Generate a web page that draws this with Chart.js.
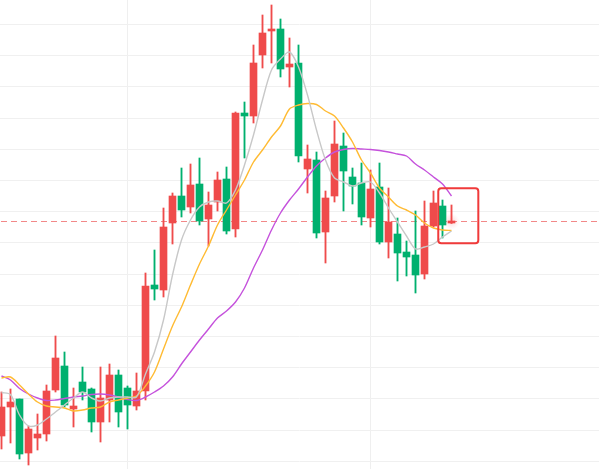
<!DOCTYPE html>
<html>
<head>
<meta charset="utf-8">
<script src="https://cdn.jsdelivr.net/npm/chart.js@4/dist/chart.umd.min.js"></script>
<style>
html,body{margin:0;padding:0;background:#fff;}
#wrap{width:599px;height:469px;position:relative;}
</style>
</head>
<body>
<div id="wrap"><canvas id="c"></canvas></div>
<script>
// ---- data ----
const opens  = [11.28,11.86,12.02,10.94,11.24,11.32,12.20,12.68,11.82,12.36,12.22,11.56,12.00,12.50,12.24,11.88,12.18,14.30,14.20,15.54,16.08,15.86,16.32,15.62,15.96,16.42,15.42,17.74,17.68,18.90,19.38,19.42,18.66,18.74,16.62,16.80,15.36,16.08,17.08,16.46,16.34,15.64,16.26,15.16,15.32,14.96,14.90,14.52,15.48,15.88,15.54];
const closes = [11.86,11.96,10.92,11.42,11.32,12.18,12.84,11.90,11.88,12.16,11.56,12.04,12.50,11.76,11.90,12.18,14.28,14.22,15.46,16.08,15.80,16.30,15.58,15.90,16.40,15.38,17.74,17.68,18.74,19.34,19.42,18.62,18.72,16.88,16.82,15.34,16.04,17.12,16.58,16.28,15.66,16.22,15.16,15.56,14.94,14.86,14.50,15.48,15.94,15.50,15.57];
const highs  = [12.16,12.22,12.02,11.48,11.72,12.30,13.28,12.96,12.24,12.66,12.24,12.66,12.72,12.60,12.28,12.54,14.54,15.00,15.84,16.14,16.64,16.72,16.84,16.16,16.56,16.66,17.76,17.96,19.10,19.70,19.90,19.62,19.24,19.10,17.10,16.96,16.18,17.58,17.34,16.64,16.74,16.60,16.74,16.24,15.64,15.18,15.78,15.98,16.18,16.00,15.90];
const lows   = [11.02,11.14,10.82,10.70,11.00,11.18,12.16,11.86,11.46,12.00,11.36,11.16,11.56,11.46,11.42,11.80,12.00,14.00,14.06,15.12,15.66,15.74,15.50,15.08,15.78,15.32,15.26,16.84,17.54,18.64,18.74,18.46,18.26,16.76,16.14,15.24,14.74,15.96,15.78,15.92,15.50,15.46,15.12,14.84,14.38,14.48,14.14,14.42,15.46,15.24,15.53];
const ma5    = [12.15,12.11,11.70,11.48,11.50,11.62,11.76,11.90,12.04,12.16,12.04,11.98,12.04,12.06,12.06,12.06,12.52,12.96,13.60,14.50,15.20,15.60,15.86,15.96,15.98,15.94,16.20,16.70,17.30,18.00,18.60,18.82,18.96,18.66,18.10,17.40,16.80,16.44,16.36,16.28,16.34,16.36,16.14,15.84,15.56,15.28,15.02,15.06,15.12,15.26,15.38];
const ma10   = [12.44,12.46,12.30,12.12,11.96,11.88,11.86,11.84,11.78,11.80,11.84,11.86,11.96,12.00,12.04,12.08,12.28,12.56,13.02,13.48,13.86,14.30,14.72,15.08,15.50,15.80,16.10,16.40,16.76,17.00,17.26,17.48,17.82,17.90,17.93,17.91,17.78,17.68,17.44,17.16,16.80,16.54,16.24,16.06,15.88,15.80,15.70,15.54,15.44,15.40,15.39];
const ma20   = [12.48,12.40,12.23,12.12,12.04,11.99,12.00,12.03,12.06,12.08,12.11,12.12,12.10,12.06,12.01,11.99,12.06,12.16,12.28,12.46,12.72,12.96,13.20,13.42,13.64,13.78,13.96,14.24,14.64,15.00,15.40,15.74,16.00,16.22,16.46,16.68,16.84,16.96,17.01,17.03,17.02,17.01,16.99,16.96,16.92,16.88,16.72,16.60,16.46,16.32,16.08];
const vGridAt = [14, 41];              // vertical separators (candle index)
const hGridTop = 19.51, hGridStep = 0.624, hGridCount = 15;
const boxRange = {x0: 48.53, x1: 52.98, yTop: 16.234, yBottom: 15.134};

const RED = '#ef4b4b', GREEN = '#00b06e';
const idx = closes.map((_, i) => i);
const colors = idx.map(i => closes[i] >= opens[i] ? RED : GREEN);

const lastPrice = closes[closes.length - 1];

const overlay = {
  id: 'overlay',
  beforeDatasetsDraw(chart) {
    const {ctx, chartArea, scales} = chart;
    const y = Math.round(scales.y.getPixelForValue(lastPrice)) + 0.5;
    ctx.save();
    ctx.strokeStyle = '#f28888';
    ctx.lineWidth = 1;
    ctx.setLineDash([6, 4]);
    ctx.lineDashOffset = -1;
    ctx.beginPath();
    ctx.moveTo(chartArea.left, y);
    ctx.lineTo(chartArea.right, y);
    ctx.stroke();
    ctx.restore();
  },
  afterDatasetsDraw(chart) {
    const {ctx, scales} = chart;
    const xs = scales.x, ys = scales.y;
    ctx.save();
    // soft glow at last price
    const gx = xs.getPixelForValue(idx[idx.length - 1]);
    const gy = ys.getPixelForValue(lastPrice);
    const g = ctx.createRadialGradient(gx, gy, 0, gx, gy, 8);
    g.addColorStop(0, 'rgba(240,70,70,0.2)');
    g.addColorStop(1, 'rgba(240,70,70,0)');
    ctx.fillStyle = g;
    ctx.beginPath();
    ctx.arc(gx, gy, 8, 0, Math.PI * 2);
    ctx.fill();
    // highlight box
    const x0 = xs.getPixelForValue(boxRange.x0), x1 = xs.getPixelForValue(boxRange.x1);
    const y0 = ys.getPixelForValue(boxRange.yTop), y1 = ys.getPixelForValue(boxRange.yBottom);
    ctx.strokeStyle = '#f03a3a';
    ctx.lineWidth = 2;
    ctx.beginPath();
    ctx.roundRect(x0, y0, x1 - x0, y1 - y0, 3);
    ctx.stroke();
    ctx.restore();
  }
};

new Chart(document.getElementById('c'), {
  type: 'bar',
  data: {
    datasets: [
      {
        type: 'line', label: 'MA5', order: 0,
        data: idx.map(i => ({x: i, y: ma5[i]})),
        borderColor: '#c8c8c8', borderWidth: 1.4, pointRadius: 0, tension: 0.3
      },
      {
        type: 'line', label: 'MA10', order: 0,
        data: idx.map(i => ({x: i, y: ma10[i]})),
        borderColor: '#ffbb33', borderWidth: 1.4, pointRadius: 0, tension: 0.3
      },
      {
        type: 'line', label: 'MA20', order: 0,
        data: idx.map(i => ({x: i, y: ma20[i]})),
        borderColor: '#c552dc', borderWidth: 1.4, pointRadius: 0, tension: 0.3
      },
      {
        label: 'wick', order: 2, grouped: false,
        data: idx.map(i => ({x: i, y: [lows[i], highs[i]]})),
        backgroundColor: colors, borderWidth: 0, barThickness: 1.2, minBarLength: 1
      },
      {
        label: 'body', order: 1, grouped: false,
        data: idx.map(i => ({x: i, y: [opens[i], closes[i]]})),
        backgroundColor: colors, borderWidth: 0, barThickness: 7, minBarLength: 2
      }
    ]
  },
  options: {
    responsive: true,
    maintainAspectRatio: false,
    animation: false,
    layout: {padding: 0},
    plugins: {legend: {display: false}, tooltip: {enabled: false}},
    scales: {
      x: {
        type: 'linear',
        min: -1.5 / 9,
        max: -1.5 / 9 + 599 / 9,
        offset: false,
        ticks: {display: false},
        border: {display: false},
        grid: {color: '#efefef', drawTicks: false, lineWidth: 1, offset: false},
        afterBuildTicks: s => { s.ticks = vGridAt.map(v => ({value: v})); },
        afterFit: s => { s.height = 0; }
      },
      y: {
        min: 20 - 469 / 50,
        max: 20,
        ticks: {display: false},
        border: {display: false},
        grid: {color: '#f0f0f0', drawTicks: false, lineWidth: 1},
        afterBuildTicks: s => {
          const t = [];
          for (let k = 0; k < hGridCount; k++) t.push({value: hGridTop - k * hGridStep});
          s.ticks = t;
        },
        afterFit: s => { s.width = 0; }
      }
    }
  },
  plugins: [overlay]
});
</script>
</body>
</html>
